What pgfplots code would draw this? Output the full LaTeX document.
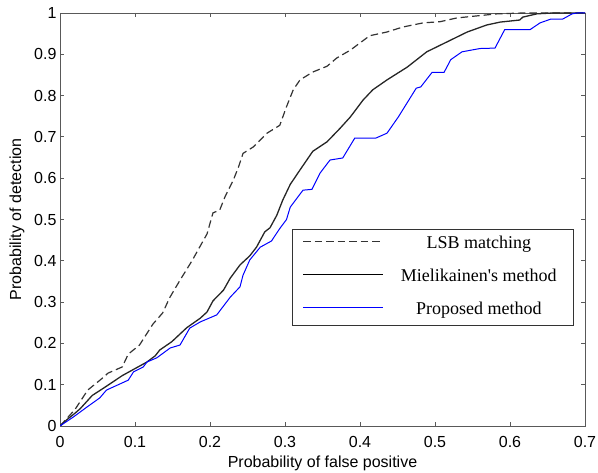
\documentclass[border=0pt]{standalone}
\usepackage{fontspec}
\setmainfont{Liberation Sans}
\newfontfamily\legfont{Liberation Serif}
\usepackage{pgfplots}
\pgfplotsset{compat=1.18}

\begin{document}
\begin{tikzpicture}
\path[use as bounding box] (-60bp,-47bp) rectangle (538bp,426bp);
\begin{axis}[
    name=ax,
    at={(0,0)}, anchor=south west,
    scale only axis,
    width=525bp, height=413bp,
    xmin=0, xmax=0.7, ymin=0, ymax=1,
    xtick={0,0.1,...,0.7},
    ytick={0,0.1,...,1},
    tick align=inside,
    major tick length=4bp,
    axis line style={black!65, line width=0.9bp},
    every tick/.style={black!65, line width=0.9bp},
    /pgf/number format/assume math mode=true,
    tick label style={font=\fontsize{16bp}{19bp}\selectfont},
    xticklabel style={yshift=-7bp},
    label style={font=\fontsize{16bp}{19bp}\selectfont},
    xlabel={Probability of false positive},
    ylabel={Probability of detection},
    xlabel style={at={(axis description cs:0.5,0)}, anchor=center, yshift=-37bp},
    ylabel style={at={(axis description cs:-0.082,0.5)}, anchor=center},
    legend style={at={(0.442,0.477)}, anchor=north west, draw=black!80, line width=1.1bp,
        inner xsep=10bp, inner ysep=6bp, row sep=15bp, column sep=10bp,
        font=\legfont\fontsize{18bp}{21bp}\selectfont,
        nodes={inner sep=0pt, text height=13bp, text depth=5bp}},
]
% LSB matching
\addplot[black!80, line width=1.2bp, dash pattern=on 7.5bp off 4bp,
    legend image code/.code={\draw[draw=black!80, line width=1.2bp, dash pattern=on 7.5bp off 4bp] (0bp,3bp) -- (80bp,3bp);}] coordinates {
(0,0) (0.02,0.04) (0.037,0.087) (0.056,0.115) (0.064,0.128) (0.083,0.143) (0.091,0.174)
(0.106,0.196) (0.124,0.247) (0.137,0.274) (0.146,0.310) (0.16,0.353) (0.176,0.40)
(0.196,0.465) (0.204,0.516) (0.213,0.523) (0.22,0.555) (0.231,0.595) (0.238,0.627)
(0.244,0.66) (0.258,0.676) (0.276,0.709) (0.293,0.728) (0.302,0.773) (0.311,0.814)
(0.32,0.838) (0.337,0.857) (0.356,0.871) (0.369,0.891) (0.387,0.910) (0.413,0.945)
(0.436,0.954) (0.457,0.966) (0.484,0.976) (0.507,0.979) (0.529,0.988) (0.556,0.993)
(0.583,0.998) (0.617,1.0) (0.7,1.0)};
\addlegendentry{\makebox[170bp][c]{LSB matching}}
% Mielikainen's method
\addplot[black!85, line width=1.3bp,
    legend image code/.code={\draw[draw=black, line width=1.2bp] (0bp,3bp) -- (80bp,3bp);}] coordinates {
(0,0) (0.009,0.015) (0.02,0.031) (0.027,0.042) (0.043,0.074) (0.06,0.094) (0.083,0.122)
(0.104,0.143) (0.116,0.155) (0.127,0.170) (0.133,0.184) (0.149,0.204) (0.169,0.238)
(0.187,0.261) (0.196,0.276) (0.204,0.303) (0.218,0.329) (0.227,0.358) (0.24,0.39)
(0.253,0.412) (0.262,0.433) (0.273,0.47) (0.28,0.48) (0.289,0.51) (0.297,0.547)
(0.307,0.585) (0.32,0.62) (0.337,0.665) (0.356,0.688) (0.373,0.72) (0.387,0.748)
(0.404,0.789) (0.417,0.814) (0.436,0.838) (0.463,0.869) (0.489,0.906) (0.516,0.93)
(0.543,0.954) (0.569,0.971) (0.587,0.978) (0.613,0.983) (0.617,0.99) (0.636,0.998)
(0.657,1.0) (0.7,1.0)};
\addlegendentry{\makebox[170bp][c]{Mielikainen's method}}
% Proposed method
\addplot[blue, line width=1bp,
    legend image code/.code={\draw[draw=blue, line width=1.1bp] (0bp,3bp) -- (80bp,3bp);}] coordinates {
(0,0) (0.018,0.022) (0.036,0.046) (0.053,0.068) (0.062,0.087) (0.091,0.111) (0.098,0.131)
(0.111,0.143) (0.116,0.155) (0.129,0.165) (0.138,0.177) (0.147,0.189) (0.16,0.196)
(0.173,0.237) (0.187,0.252) (0.209,0.269) (0.227,0.312) (0.24,0.337) (0.244,0.365)
(0.253,0.402) (0.267,0.433) (0.282,0.448) (0.293,0.478) (0.302,0.50) (0.307,0.53)
(0.324,0.571) (0.336,0.573) (0.347,0.613) (0.36,0.644) (0.377,0.649) (0.393,0.697)
(0.421,0.697) (0.436,0.709) (0.451,0.748) (0.475,0.818) (0.481,0.821) (0.496,0.856)
(0.512,0.856) (0.521,0.887) (0.536,0.906) (0.56,0.914) (0.58,0.915) (0.593,0.960)
(0.627,0.960) (0.64,0.976) (0.654,0.985) (0.67,0.985) (0.683,0.998) (0.69,1.0) (0.7,1.0)};
\addlegendentry{\makebox[170bp][c]{Proposed method}}
\end{axis}
\end{tikzpicture}
\end{document}
